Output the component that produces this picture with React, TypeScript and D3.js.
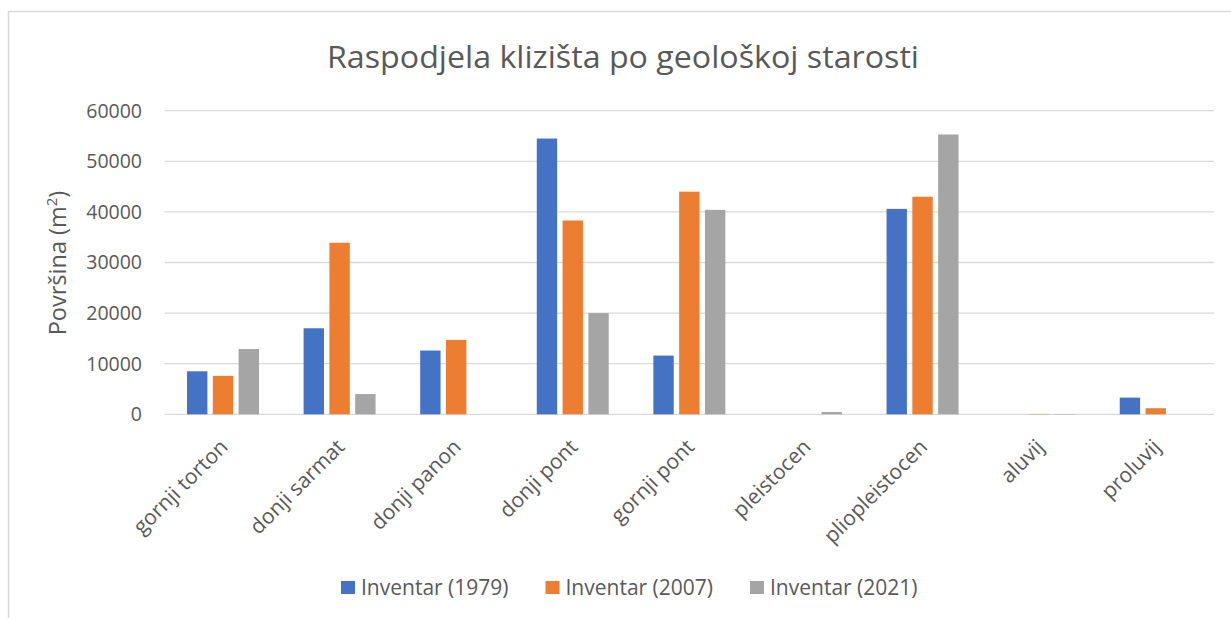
import * as d3 from 'd3'
import {useEffect, useRef} from 'react'

const categories = [
  'gornji torton',
  'donji sarmat',
  'donji panon',
  'donji pont',
  'gornji pont',
  'pleistocen',
  'pliopleistocen',
  'aluvij',
  'proluvij',
]
const seriesNames = ['Inventar (1979)', 'Inventar (2007)', 'Inventar (2021)']
const inventar1979 = [8500, 17000, 12600, 54500, 11600, 0, 40600, 0, 3300]
const inventar2007 = [7600, 33900, 14700, 38300, 44000, 0, 43000, 60, 1200]
const inventar2021 = [12900, 4000, 0, 20000, 40400, 450, 55300, 60, 0]
const yTicks = [0, 10000, 20000, 30000, 40000, 50000, 60000]
const colors = ['#4472C4', '#ED7D31', '#A5A5A5']

const W = 1231
const H = 618
const font = '"Open Sans", sans-serif'
const textColor = '#595959'

export default function App() {
  const ref = useRef<SVGSVGElement>(null)

  useEffect(() => {
    const svg = d3.select(ref.current)
    svg.selectAll('*').remove()

    const values = [inventar1979, inventar2007, inventar2021]
    const x = d3.scaleBand().domain(categories).range([164.7, 1214])
    const x1 = d3
      .scaleBand()
      .domain(seriesNames)
      .range([0, x.bandwidth()])
      .paddingInner(0.21)
      .paddingOuter(0.865)
    const y = d3.scaleLinear().domain([0, 60000]).range([414.3, 110.7])

    // chart frame (cut off on the right and bottom in the original)
    svg
      .append('rect')
      .attr('x', 8.5)
      .attr('y', 11.5)
      .attr('width', 1240)
      .attr('height', 640)
      .attr('fill', '#fff')
      .attr('stroke', '#d9d9d9')
      .attr('stroke-width', 1.5)

    svg
      .append('text')
      .attr('x', 623)
      .attr('y', 68)
      .attr('text-anchor', 'middle')
      .attr('font-family', font)
      .attr('font-size', 31)
      .attr('fill', textColor)
      .attr('textLength', 592)
      .attr('lengthAdjust', 'spacingAndGlyphs')
      .text('Raspodjela klizišta po geološkoj starosti')

    // gridlines
    svg
      .append('g')
      .selectAll('line')
      .data(yTicks)
      .enter()
      .append('line')
      .attr('x1', x.range()[0])
      .attr('x2', x.range()[1])
      .attr('y1', d => y(d))
      .attr('y2', d => y(d))
      .attr('stroke', '#d9d9d9')
      .attr('stroke-width', 1.3)

    svg
      .append('g')
      .selectAll('text')
      .data(yTicks)
      .enter()
      .append('text')
      .attr('x', 142)
      .attr('y', d => y(d))
      .attr('dy', '0.35em')
      .attr('text-anchor', 'end')
      .attr('font-family', font)
      .attr('font-size', 19.5)
      .attr('fill', textColor)
      .text(d => String(d))

    const yTitle = svg
      .append('text')
      .attr('transform', 'translate(66,263) rotate(-90)')
      .attr('text-anchor', 'middle')
      .attr('font-family', font)
      .attr('font-size', 23.5)
      .attr('fill', textColor)
    yTitle.append('tspan').text('Površina (m')
    yTitle.append('tspan').attr('font-size', 15).attr('dy', -9).text('2')
    yTitle.append('tspan').attr('dy', 9).text(')')

    // bars
    seriesNames.forEach((name, si) => {
      svg
        .append('g')
        .selectAll('rect')
        .data(values[si])
        .enter()
        .append('rect')
        .attr('x', (_, i) => (x(categories[i]) || 0) + (x1(name) || 0))
        .attr('width', x1.bandwidth())
        .attr('y', d => y(d))
        .attr('height', d => y(0) - y(d))
        .attr('fill', colors[si])
    })

    // rotated category labels
    svg
      .append('g')
      .selectAll('text')
      .data(categories)
      .enter()
      .append('text')
      .attr('transform', d => 'translate(' + ((x(d) || 0) + x.bandwidth() / 2 + 1) + ',443) rotate(-45)')
      .attr('text-anchor', 'end')
      .attr('dy', '0.35em')
      .attr('font-family', font)
      .attr('font-size', 21)
      .attr('fill', textColor)
      .text(d => d)

    // legend
    const legend = svg
      .append('g')
      .selectAll('g')
      .data(seriesNames)
      .enter()
      .append('g')
      .attr('transform', (_, i) => 'translate(' + (341 + i * 204.5) + ',588)')
    legend
      .append('rect')
      .attr('x', 0)
      .attr('y', -7)
      .attr('width', 14)
      .attr('height', 13)
      .attr('fill', (_, i) => colors[i])
    legend
      .append('text')
      .attr('x', 20)
      .attr('dy', '0.35em')
      .attr('font-family', font)
      .attr('font-size', 21)
      .attr('fill', textColor)
      .text(d => d)
  }, [])

  return (
    <svg
      ref={ref}
      width={W}
      height={H}
      style={{position: 'absolute', left: 0, top: 0, background: '#fff'}}
    />
  )
}
